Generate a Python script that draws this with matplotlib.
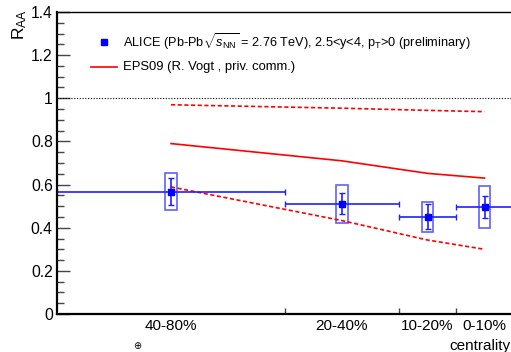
import matplotlib
matplotlib.use("Agg")
import matplotlib.pyplot as plt
from matplotlib.patches import Rectangle
from matplotlib.ticker import MultipleLocator

plt.rcParams['font.family'] = ['Liberation Sans', 'DejaVu Sans']
plt.rcParams['mathtext.fontset'] = 'custom'
plt.rcParams['mathtext.rm'] = 'Liberation Sans'
plt.rcParams['mathtext.it'] = 'Liberation Sans:italic'

# centrality classes, x axis runs (80 - centrality)/10
cent_labels = ['40-80%', '20-40%', '10-20%', '0-10%']
bin_lo = [0, 4, 6, 7]
bin_hi = [4, 6, 7, 8]

# ALICE J/psi RAA, forward rapidity
raa = [0.567, 0.511, 0.451, 0.497]
stat = [0.063, 0.048, 0.057, 0.052]
syst = [0.087, 0.089, 0.069, 0.098]

# EPS09 shadowing band (R. Vogt)
eps_central = [0.79, 0.71, 0.652, 0.63]
eps_upper = [0.97, 0.954, 0.944, 0.938]
eps_lower = [0.589, 0.433, 0.343, 0.30]

xc = [(a + b) / 2 for a, b in zip(bin_lo, bin_hi)]
xw = [(b - a) / 2 for a, b in zip(bin_lo, bin_hi)]

fig = plt.figure(figsize=(5.11, 3.52), dpi=100)
ax = fig.add_axes([57 / 511, 38 / 352, 456 / 511, 302 / 352])
ax.set_xlim(0, 8)
ax.set_ylim(0, 1.4)

# reference line at 1
ax.axhline(1.0, color='black', ls=(0, (1, 1.5)), lw=0.8)

# model
ax.plot(xc, eps_central, color='red', lw=1.2)
ax.plot(xc, eps_upper, color='red', lw=1.2, ls=(0, (2.5, 1.5)))
ax.plot(xc, eps_lower, color='red', lw=1.2, ls=(0, (2.5, 1.5)))

# systematic boxes
for x, y, s in zip(xc, raa, syst):
    ax.add_patch(Rectangle((x - 0.1, y - s), 0.2, 2 * s, fill=False,
                           edgecolor='#6060ff', lw=1.2))

ax.errorbar(xc, raa, xerr=xw, yerr=stat, fmt='s', color='#0000ff',
            ms=4.5, ecolor='#2020ff', elinewidth=1.2, capsize=2, capthick=1)

# axes style
for side in ['left', 'bottom']:
    ax.spines[side].set_linewidth(1.6)
ax.spines['top'].set_linewidth(1.0)
ax.yaxis.set_major_locator(MultipleLocator(0.2))
ax.yaxis.set_minor_locator(MultipleLocator(0.05))
ax.tick_params(axis='y', which='major', direction='in', length=9.5,
               width=1.0, color='#444444', labelsize=11.3, pad=3)
ax.tick_params(axis='y', which='minor', direction='in', length=4.8,
               width=1.0, color='#444444')
ax.set_yticks([0, 0.2, 0.4, 0.6, 0.8, 1.0, 1.2, 1.4])
ax.set_yticklabels(['0', '0.2', '0.4', '0.6', '0.8', '1', '1.2', '1.4'])
ax.set_xticks([4, 6, 7])
ax.set_xticklabels([])
ax.tick_params(axis='x', direction='in', length=4.5, width=1.0, color='#444444')

# category labels
for x, lab in zip(xc, cent_labels):
    ax.text(x, -0.015, lab, ha='center', va='top', fontsize=11,
            transform=ax.get_xaxis_transform())
fig.text(510 / 511, 1 - 346 / 352, 'centrality', ha='right', va='center', fontsize=11)

fig.text(20 / 511, 1 - 9 / 352, r'R$_{\rm AA}$', rotation=90, ha='center',
         va='top', fontsize=12.5)

# legend
ax.plot([(104 - 57) / 57], [(314 - 42) / 215.7], 's', color='#0000ff', ms=4.5,
        clip_on=False)
ax.text((123 - 57) / 57, (314 - 42) / 215.7,
        r'ALICE (Pb-Pb$\sqrt{s_{\rm NN}}$ = 2.76 TeV), 2.5<y<4, p$_{\rm T}$>0 (preliminary)',
        va='center', ha='left', fontsize=9.2)
ax.plot([(91 - 57) / 57, (117 - 57) / 57], [(314 - 67) / 215.7] * 2, color='red', lw=1.2)
ax.text((123 - 57) / 57, (314 - 67) / 215.7, 'EPS09 (R. Vogt , priv. comm.)',
        va='center', ha='left', fontsize=9.4)

fig.text(137 / 511, 1 - 346 / 352, '\u2295', ha='center', va='center', fontsize=7,
         family='DejaVu Sans')

fig.savefig('out.png', dpi=100)
